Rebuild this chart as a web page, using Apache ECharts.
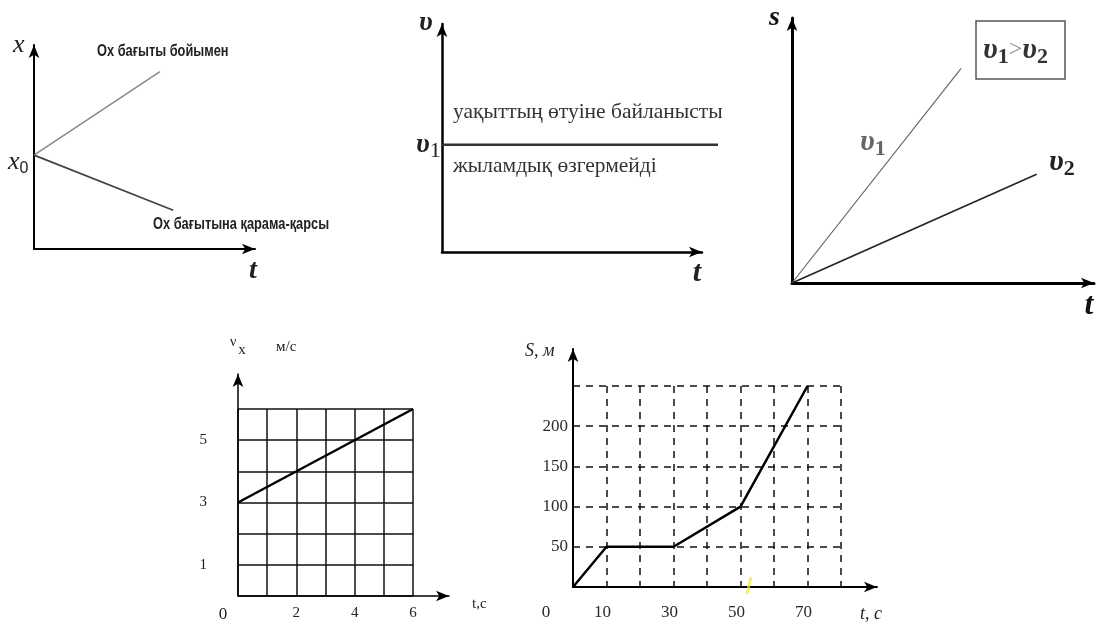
<!DOCTYPE html>
<html>
<head>
<meta charset="utf-8">
<script src="https://cdn.jsdelivr.net/npm/echarts@6/dist/echarts.min.js"></script>
<style>
  html, body { margin: 0; padding: 0; background: #fff; }
  #main { width: 1101px; height: 628px; }
</style>
</head>
<body>
<div id="main"></div>
<script>
// 1: x(t), two directions from x0
const ch1Along = [[0, 46], [57, 87]];
const ch1Against = [[0, 46], [63, 19]];
// 2: v(t) constant speed (line runs a bit past the t arrow)
const ch2Const = [[0, 47], [100, 47]];
// 3: s(t) two speeds
const ch3V1 = [[0, 0], [56, 81]];
const ch3V2 = [[0, 0], [81, 41]];
// 4: vx(t), m/s
const vxTime = [0, 6];
const vxValues = [3, 6];
const vxXTicks = [0, 2, 4, 6];
const vxYTicks = [1, 3, 5];
// 5: S(t), m
const sTime = [0, 10, 30, 50, 70];
const sDist = [0, 50, 50, 100, 250];
const sXTicks = [0, 10, 30, 50, 70];
const sYTicks = [50, 100, 150, 200];

const SERIF = '"Liberation Serif", "DejaVu Serif", serif';
const SANS = '"Liberation Sans", Arial, sans-serif';

var chart = echarts.init(document.getElementById('main'));

function pairs(xs, ys) {
    var out = [];
    for (var i = 0; i < xs.length; i++) out.push([xs[i], ys[i]]);
    return out;
}

function arrowAxis(gi, max, lw) {
    return {
        type: 'value', gridIndex: gi, min: 0, max: max,
        axisLine: { show: true, symbol: ['none', 'arrow'], symbolSize: [8, 13],
            lineStyle: { color: '#000', width: lw } },
        axisTick: { show: false }, axisLabel: { show: false }, splitLine: { show: false }
    };
}

function hiddenAxis(gi, max) {
    return {
        type: 'value', gridIndex: gi, min: 0, max: max, show: false,
        splitLine: { show: false }
    };
}

function txt(x, y, text, font, fill, rich, align, sx) {
    return {
        type: 'text', x: x, y: y, z: 10, scaleX: sx || 1,
        style: { text: text, font: font, fill: fill || '#111', rich: rich,
            textAlign: align || 'left', textVerticalAlign: 'middle' }
    };
}

function line(gi, data, color, width) {
    return {
        type: 'line', xAxisIndex: gi, yAxisIndex: gi, data: data,
        symbol: 'none', clip: false, animation: false,
        lineStyle: { color: color, width: width }
    };
}

var gridLine4 = { color: '#111', width: 1.5 };
var gridLine5 = { color: '#111', width: 1.5, type: [7, 6] };

var option = {
    backgroundColor: '#fff',
    animation: false,
    grid: [
        { left: 34, top: 45, width: 221, height: 204 },
        { left: 442, top: 24, width: 260, height: 228 },
        { left: 792, top: 18, width: 302, height: 265 },
        { left: 238, top: 409, width: 175, height: 187 },
        { left: 238, top: 374, width: 211, height: 222 },
        { left: 573, top: 386, width: 268, height: 201 },
        { left: 573, top: 349, width: 304, height: 238 },
        { left: 442, top: 24, width: 276, height: 228 }
    ],
    xAxis: [
        arrowAxis(0, 100, 2),
        arrowAxis(1, 100, 2.5),
        arrowAxis(2, 100, 3),
        {
            type: 'value', gridIndex: 3, min: 0, max: 6, interval: 1,
            axisLine: { show: false }, axisTick: { show: false },
            splitLine: { show: true, lineStyle: gridLine4 },
            axisLabel: {
                margin: 10, fontFamily: SERIF, fontSize: 15, color: '#222',
                formatter: function (v) {
                    if (vxXTicks.indexOf(v) < 0) return '';
                    return v === 0 ? '{z|0}' : String(v);
                },
                rich: { z: { padding: [0, 30, 0, 0], fontFamily: SERIF, fontSize: 17, color: '#222' } }
            }
        },
        arrowAxis(4, 100, 1.5),
        {
            type: 'value', gridIndex: 5, min: 0, max: 80, interval: 10,
            axisLine: { show: false }, axisTick: { show: false },
            splitLine: { show: true, showMinLine: false, lineStyle: gridLine5 },
            axisLabel: {
                margin: 17, fontFamily: SERIF, fontSize: 17, color: '#2a2a2a',
                padding: [0, 8, 0, 0],
                formatter: function (v) {
                    if (sXTicks.indexOf(v) < 0) return '';
                    return v === 0 ? '{z|0}' : String(v);
                },
                rich: { z: { padding: [0, 46, 0, 0], fontFamily: SERIF, fontSize: 17, color: '#2a2a2a' } }
            }
        },
        arrowAxis(6, 100, 2),
        hiddenAxis(7, 100)
    ],
    yAxis: [
        arrowAxis(0, 100, 2),
        arrowAxis(1, 100, 2.5),
        arrowAxis(2, 100, 3),
        {
            type: 'value', gridIndex: 3, min: 0, max: 6, interval: 1,
            axisLine: { show: false }, axisTick: { show: false },
            splitLine: { show: true, lineStyle: gridLine4 },
            axisLabel: {
                margin: 31, fontFamily: SERIF, fontSize: 15, color: '#222',
                padding: [14, 0, 0, 0],
                formatter: function (v) { return vxYTicks.indexOf(v) < 0 ? '' : String(v); }
            }
        },
        arrowAxis(4, 100, 1.5),
        {
            type: 'value', gridIndex: 5, min: 0, max: 250, interval: 50,
            axisLine: { show: false }, axisTick: { show: false },
            splitLine: { show: true, showMinLine: false, lineStyle: gridLine5 },
            axisLabel: {
                margin: 5, fontFamily: SERIF, fontSize: 17, color: '#2a2a2a',
                padding: [10, 0, 0, 0],
                formatter: function (v) { return sYTicks.indexOf(v) < 0 ? '' : String(v); }
            }
        },
        arrowAxis(6, 100, 2),
        hiddenAxis(7, 100)
    ],
    series: [
        line(0, ch1Along, '#888', 1.5),
        line(0, ch1Against, '#444', 1.8),
        line(7, ch2Const, '#333', 2.5),
        line(2, ch3V1, '#666', 1.2),
        line(2, ch3V2, '#222', 1.6),
        line(3, pairs(vxTime, vxValues), '#000', 2.5),
        line(5, pairs(sTime, sDist), '#000', 2.5)
    ],
    graphic: [
        // 1
        txt(13, 45, 'x', 'italic 26px ' + SERIF, '#222'),
        txt(8, 162, '{a|x}{b|0}', '', '#222', {
            a: { font: 'italic 26px ' + SERIF, fill: '#222' },
            b: { font: '16px ' + SANS, fill: '#222', padding: [14, 0, 0, 0] }
        }),
        txt(97, 52, 'Ox бағыты бойымен', 'bold 16px ' + SANS, '#222', null, 'left', 0.8),
        txt(153, 225, 'Ox бағытына қарама-қарсы', 'bold 16px ' + SANS, '#222', null, 'left', 0.8),
        txt(253, 271, 't', 'italic bold 28px ' + SERIF, '#222', null, 'center'),
        // 2
        txt(419, 23, 'υ', 'italic bold 28px ' + SERIF, '#222'),
        txt(416, 145, '{a|υ}{b|1}', '', '#222', {
            a: { font: 'italic bold 28px ' + SERIF, fill: '#222' },
            b: { font: '22px ' + SERIF, fill: '#222', padding: [12, 0, 0, 0] }
        }),
        txt(453, 112, 'уақыттың өтуіне байланысты', '21.5px ' + SERIF, '#333'),
        txt(453, 166, 'жыламдық өзгермейді', '21.5px ' + SERIF, '#333'),
        txt(697, 273, 't', 'italic bold 30px ' + SERIF, '#222', null, 'center'),
        // 3
        { type: 'rect', z: 10, shape: { x: 976, y: 21, width: 89, height: 58 },
          style: { fill: 'none', stroke: '#555', lineWidth: 1.5 } },
        txt(983, 50, '{a|υ}{b|1}{c|>}{a|υ}{b|2}', '', '#333', {
            a: { font: 'italic bold 30px ' + SERIF, fill: '#333' },
            b: { font: 'bold 22px ' + SERIF, fill: '#333', padding: [14, 0, 0, 0] },
            c: { font: '24px ' + SERIF, fill: '#888' }
        }),
        txt(769, 18, 's', 'italic bold 28px ' + SERIF, '#111'),
        txt(860, 142, '{a|υ}{b|1}', '', '#666', {
            a: { font: 'italic bold 30px ' + SERIF, fill: '#666' },
            b: { font: 'bold 22px ' + SERIF, fill: '#666', padding: [14, 0, 0, 0] }
        }),
        txt(1049, 162, '{a|υ}{b|2}', '', '#222', {
            a: { font: 'italic bold 30px ' + SERIF, fill: '#222' },
            b: { font: 'bold 22px ' + SERIF, fill: '#222', padding: [14, 0, 0, 0] }
        }),
        txt(1089, 306, 't', 'italic bold 32px ' + SERIF, '#111', null, 'center'),
        // 4
        txt(230, 342, '{a|ν}{b|x}', '', '#222', {
            a: { font: '14px ' + SERIF, fill: '#222' },
            b: { font: '15px ' + SERIF, fill: '#222', padding: [16, 0, 0, 2] }
        }),
        txt(276, 347, 'м/с', '15px ' + SERIF, '#222'),
        txt(472, 604, 't,c', '15px ' + SERIF, '#222'),
        // 5
        txt(525, 351, 'S, м', 'italic 18px ' + SERIF, '#222'),
        txt(860, 614, 't, c', 'italic 18px ' + SERIF, '#222'),
        { type: 'line', z: 9, shape: { x1: 751, y1: 577, x2: 747, y2: 594 },
          style: { stroke: 'rgba(240,230,60,0.7)', lineWidth: 3 } }
    ]
};

chart.setOption(option);
</script>
</body>
</html>
